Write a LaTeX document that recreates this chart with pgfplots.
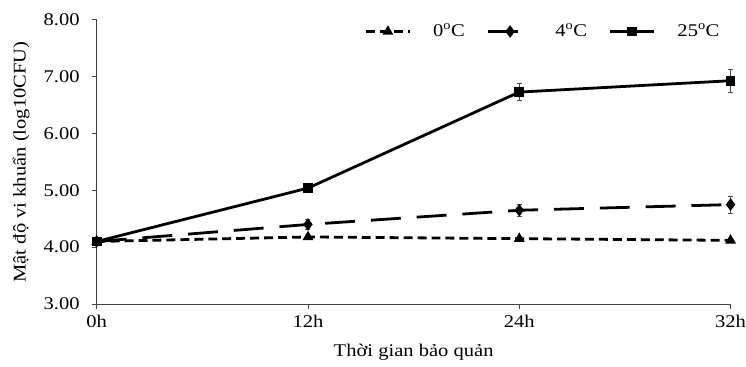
\documentclass[border=0pt]{standalone}
\usepackage{pgfplots}
\pgfplotsset{compat=1.18}
\usepackage{fontspec}
\setmainfont[FakeStretch=1.15]{Liberation Serif}
\begin{document}
\fontsize{18}{21}\selectfont
\begin{tikzpicture}
\begin{axis}[
  name=ax,
  scale only axis,
  width=636bp, height=285bp,
  xmin=0, xmax=3, ymin=3, ymax=8,
  xtick={0,1,2,3}, xticklabels={0h,12h,24h,32h},
  ytick={3,4,5,6,7,8},
  yticklabel={\pgfmathprintnumber[fixed,fixed zerofill,precision=2]{\tick}},
  /pgf/number format/assume math mode=true,
  axis lines=left,
  axis line style={-, draw=black!75, line width=0.9pt},
  tick style={draw=black!75, line width=0.9pt},
  tick align=outside,
  major tick length=5bp,
  yticklabel style={xshift=-6bp},
  xticklabel style={inner xsep=0pt},
  xlabel={Thời gian bảo quản},
  ylabel={Mật độ vi khuẩn (log10CFU)},
  xlabel style={yshift=-4bp},
  ylabel style={yshift=2bp},
  ticklabel style={font=\fontsize{18}{21}\selectfont},
  label style={font=\fontsize{18}{21}\selectfont},
  clip=false,
  legend columns=3,
  legend style={draw=none, fill=none, at={(1,1)}, anchor=north east, xshift=-6bp,
    font=\fontsize{18}{21}\selectfont, column sep=20bp},
  legend image code/.code={
    \draw[#1, mark repeat=2, mark phase=2] plot coordinates {(0bp,0bp) (22bp,0bp) (44bp,0bp)};
  },
  error bars/y dir=both, error bars/y explicit,
  error bars/error bar style={line width=0.6pt, solid, draw=black!70},
  error bars/error mark options={rotate=90, mark size=2.5bp, line width=0.6pt, draw=black!70},
]
\addplot[black, line width=2.8bp, dash pattern=on 9bp off 5bp,
  mark=triangle*, mark size=3.5bp, mark options={solid}]
  coordinates {(0,4.10) +- (0,0.03) (1,4.18) +- (0,0.03) (2,4.15) +- (0,0.04) (3,4.12) +- (0,0.03)};
\addlegendentry{0\textsuperscript{o}C}
\addplot[black, line width=2.8bp, dash pattern=on 30bp off 16bp,
  mark=diamond*, mark size=4bp, mark options={solid}]
  coordinates {(0,4.10) +- (0,0.03) (1,4.40) +- (0,0.09) (2,4.65) +- (0,0.10) (3,4.75) +- (0,0.15)};
\addlegendentry{4\textsuperscript{o}C}
\addplot[black, line width=2.8bp, solid,
  mark=square*, mark size=3.5bp]
  coordinates {(0,4.10) +- (0,0.03) (1,5.04) +- (0,0.05) (2,6.73) +- (0,0.15) (3,6.93) +- (0,0.20)};
\addlegendentry{25\textsuperscript{o}C}
\end{axis}
\path ([xshift=-97bp]ax.south west) ([yshift=20bp]ax.north west) ([yshift=-62bp]ax.south west);
\end{tikzpicture}
\end{document}
